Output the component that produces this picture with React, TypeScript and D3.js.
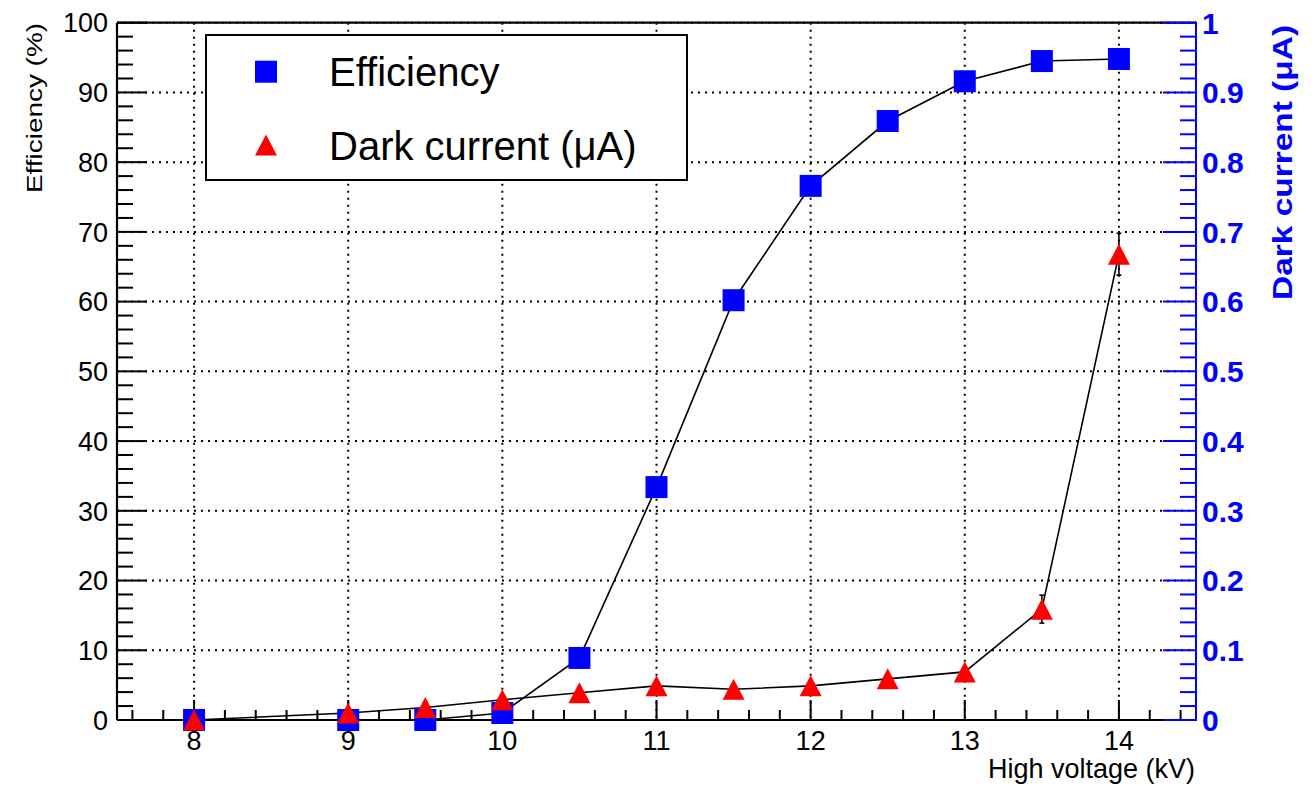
import React from 'react';
import * as d3 from 'd3';

// high voltage (kV)
const voltage = [8, 9, 9.5, 10, 10.5, 11, 11.5, 12, 12.5, 13, 13.5, 14];
// efficiency (%) - left axis
const efficiency = [0, 0, 0, 1.0, 8.9, 33.4, 60.2, 76.6, 85.9, 91.6, 94.5, 94.8];
// dark current (uA) - right axis
const darkCurrent = [0, 0.01, 0.018, 0.029, 0.039, 0.049, 0.044, 0.049, 0.059, 0.069, 0.159, 0.668];
const darkErr = [0, 0, 0, 0, 0, 0, 0, 0, 0, 0, 0.02, 0.03];

const legendLabels = ['Efficiency', 'Dark current (\u03bcA)'];

const W = 1316;
const H = 786;
const font = '"Liberation Sans", Arial, Helvetica, sans-serif';

const App = () => {
  const left = 117, right = 1196, top = 22.7, bottom = 720;

  const x = d3.scaleLinear().domain([7.5, 14.5]).range([left, right]);
  const y = d3.scaleLinear().domain([0, 100]).range([bottom, top]);
  const yR = d3.scaleLinear().domain([0, 1]).range([bottom, top]);

  const xMajor = x.ticks(7);
  const xMinor = x.ticks(35);
  const yMajor = y.ticks(10);
  const yMinor = y.ticks(50);
  const rMajor = yR.ticks(10);
  const rMinor = yR.ticks(50);
  const fmt = d3.format('~g');

  const effLine = d3.line<number>()
    .x((d, i) => x(voltage[i]))
    .y(d => y(d));
  const darkLine = d3.line<number>()
    .x((d, i) => x(voltage[i]))
    .y(d => yR(d));

  const sq = 22;
  const triPath = (cx: number, cy: number) =>
    `M${cx},${cy - 10.5}L${cx + 11},${cy + 10.5}L${cx - 11},${cy + 10.5}Z`;

  return (
    <svg width={W} height={H} style={{ position: 'absolute', left: 0, top: 0, background: '#fff' }}
      fontFamily={font}>
      <rect x={0} y={0} width={W} height={H} fill="#fff" />

      {/* grid */}
      <g stroke="#000" strokeWidth={2} strokeDasharray="2 5">
        {xMajor.map(t => (
          <line key={'gx' + t} x1={x(t)} x2={x(t)} y1={top} y2={bottom} />
        ))}
        {yMajor.map(t => (
          <line key={'gy' + t} x1={left} x2={right} y1={y(t)} y2={y(t)} />
        ))}
      </g>

      {/* frame */}
      <g stroke="#000" strokeWidth={2.2} fill="none">
        <line x1={left} x2={right} y1={top} y2={top} />
        <line x1={left} x2={right} y1={bottom} y2={bottom} />
        <line x1={left} x2={left} y1={top} y2={bottom} />
      </g>

      {/* bottom axis ticks */}
      <g stroke="#000" strokeWidth={2}>
        {xMinor.map(t => (
          <line key={'xm' + t} x1={x(t)} x2={x(t)} y1={bottom} y2={bottom - (xMajor.some(m => Math.abs(m - t) < 1e-9) ? 20 : 10)} />
        ))}
      </g>
      {xMajor.map(t => (
        <text key={'xl' + t} x={x(t)} y={750} fontSize={27} textAnchor="middle" fill="#000">{fmt(t)}</text>
      ))}
      <text x={1195} y={778} fontSize={27} textAnchor="end" fill="#000">High voltage (kV)</text>

      {/* left axis ticks */}
      <g stroke="#000" strokeWidth={2}>
        {yMinor.map(t => (
          <line key={'ym' + t} x1={left} x2={left + (yMajor.some(m => Math.abs(m - t) < 1e-9) ? 30 : 16)} y1={y(t)} y2={y(t)} />
        ))}
      </g>
      {yMajor.map(t => (
        <text key={'yl' + t} x={108} y={y(t)} dy="0.36em" fontSize={27} textAnchor="end" fill="#000">{fmt(t)}</text>
      ))}
      <text transform={`translate(42,23) rotate(-90)`} fontSize={22} textAnchor="end" fill="#000"
        textLength={170} lengthAdjust="spacingAndGlyphs">Efficiency (%)</text>

      {/* right axis */}
      <g stroke="#0000ff" strokeWidth={2}>
        <line x1={right} x2={right} y1={top - 1} y2={bottom + 1} />
        {rMinor.map(t => (
          <line key={'rm' + t} x1={right} x2={right - (rMajor.some(m => Math.abs(m - t) < 1e-9) ? 33 : 16)} y1={yR(t)} y2={yR(t)} />
        ))}
      </g>
      {rMajor.map(t => (
        <text key={'rl' + t} x={1202} y={yR(t)} dy="0.36em" fontSize={30} fontWeight="bold" fill="#0000ff">{fmt(t)}</text>
      ))}
      <text transform={`translate(1292,25) rotate(-90)`} fontSize={28} fontWeight="bold" textAnchor="end" fill="#0000ff"
        textLength={275} lengthAdjust="spacingAndGlyphs">Dark current ({'\u03bc'}A)</text>

      {/* legend */}
      <rect x={206} y={35} width={481} height={145} fill="#fff" stroke="#000" strokeWidth={2} />
      <rect x={266 - sq / 2} y={71.7 - sq / 2} width={sq} height={sq} fill="#0000ff" />
      <path d={triPath(266, 145)} fill="#ff0000" />
      <text x={329} y={86} fontSize={40} fill="#000">{legendLabels[0]}</text>
      <text x={329} y={160} fontSize={40} fill="#000">{legendLabels[1]}</text>

      {/* data lines */}
      <path d={effLine(efficiency) || ''} fill="none" stroke="#000" strokeWidth={1.6} />
      <path d={darkLine(darkCurrent) || ''} fill="none" stroke="#000" strokeWidth={1.6} />

      {/* error bars */}
      <g stroke="#000" strokeWidth={1.6}>
        {darkErr.map((e, i) => e > 0 ? (
          <g key={'err' + i}>
            <line x1={x(voltage[i])} x2={x(voltage[i])} y1={yR(darkCurrent[i] - e)} y2={yR(darkCurrent[i] + e)} />
            <line x1={x(voltage[i]) - 2.5} x2={x(voltage[i]) + 2.5} y1={yR(darkCurrent[i] - e)} y2={yR(darkCurrent[i] - e)} />
            <line x1={x(voltage[i]) - 2.5} x2={x(voltage[i]) + 2.5} y1={yR(darkCurrent[i] + e)} y2={yR(darkCurrent[i] + e)} />
          </g>
        ) : null)}
      </g>

      {/* markers */}
      {efficiency.map((v, i) => (
        <rect key={'sq' + i} x={x(voltage[i]) - sq / 2} y={y(v) - sq / 2} width={sq} height={sq} fill="#0000ff" />
      ))}
      {darkCurrent.map((v, i) => (
        <path key={'tr' + i} d={triPath(x(voltage[i]), yR(v))} fill="#ff0000" />
      ))}
    </svg>
  );
};

export default App;
